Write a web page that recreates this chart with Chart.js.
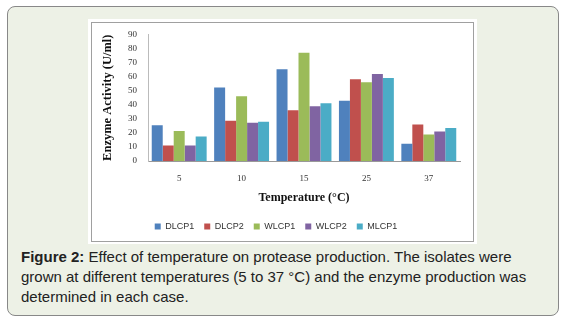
<!DOCTYPE html>
<html>
<head>
<meta charset="utf-8">
<script src="https://cdn.jsdelivr.net/npm/chart.js@4.4.1/dist/chart.umd.min.js"></script>
<style>
    html, body { margin: 0; padding: 0; background: #ffffff; }
    body { width: 567px; height: 323px; position: relative; overflow: hidden; }
    #panel {
        position: absolute; left: 7px; top: 6px; width: 550px; height: 308px;
        background: #edf1e6; border: 1px solid #888; border-radius: 8px;
    }
    #figure {
        position: absolute; left: 88px; top: 19px; width: 389px; height: 225px;
        background: #ffffff;
    }
    #chart-box {
        position: absolute; left: 91px; top: 22px; width: 381px; height: 218px;
        border: 1px solid #a0a0a0; background: #ffffff; overflow: hidden;
    }
    #tempChart { position: absolute; left: 0; top: -5px; }
    #caption {
        position: absolute; left: 21px; top: 247px;
        font-family: "Liberation Sans", Arial, sans-serif; font-size: 15px; line-height: 20px;
        color: #222; white-space: nowrap;
    }
</style>
</head>
<body>
<div id="panel"></div>
<div id="figure"></div>
<div id="chart-box"><canvas id="tempChart" width="381" height="223"></canvas></div>
<div id="caption"><b>Figure 2:</b> Effect of temperature on protease production. The isolates were<br>grown at different temperatures (5 to 37 °C) and the enzyme production was<br>determined in each case.</div>

<script>
        // Data
        const temperatures = ['5', '10', '15', '25', '37'];
        const dlcp1 = [25.5, 52.2, 65.2, 42.8, 12.3];
        const dlcp2 = [11.1, 28.6, 36.1, 58.1, 26.0];
        const wlcp1 = [21.3, 46.0, 77.0, 56.0, 18.9];
        const wlcp2 = [11.1, 27.2, 39.0, 61.9, 21.0];
        const mlcp1 = [17.5, 27.9, 41.1, 59.0, 23.4];
        const yMin = 0;
        const yMax = 90;
        const yStep = 10;

        const serif = '"Liberation Serif", "Times New Roman", serif';

        const tempChart = new Chart(
            document.getElementById('tempChart'),
            {
                type: 'bar',
                data: {
                    labels: temperatures,
                    datasets: [
                        { label: 'DLCP1', data: dlcp1, backgroundColor: '#4f81bd' },
                        { label: 'DLCP2', data: dlcp2, backgroundColor: '#c0504d' },
                        { label: 'WLCP1', data: wlcp1, backgroundColor: '#9bbb59' },
                        { label: 'WLCP2', data: wlcp2, backgroundColor: '#8064a2' },
                        { label: 'MLCP1', data: mlcp1, backgroundColor: '#4bacc6' }
                    ]
                },
                options: {
                    responsive: false,
                    animation: false,
                    categoryPercentage: 0.88,
                    barPercentage: 1.0,
                    layout: {
                        padding: { top: 1, right: 13, left: 0, bottom: 0 }
                    },
                    plugins: {
                        legend: {
                            position: 'bottom',
                            labels: {
                                boxWidth: 6,
                                boxHeight: 6,
                                padding: 10,
                                color: '#333',
                                font: { family: '"Liberation Sans", Arial, sans-serif', size: 9 }
                            }
                        },
                        tooltip: { enabled: false }
                    },
                    scales: {
                        x: {
                            grid: { display: false, drawTicks: false },
                            border: { color: '#999' },
                            ticks: {
                                padding: 12,
                                color: '#333',
                                font: { family: serif, size: 9 }
                            },
                            title: {
                                display: true,
                                text: 'Temperature (°C)',
                                color: '#111',
                                font: { family: serif, size: 12, weight: 'bold' },
                                padding: { top: 0, bottom: 7 }
                            },
                            afterFit: (scale) => { scale.height = 51; }
                        },
                        y: {
                            min: yMin,
                            max: yMax,
                            grid: { display: false, drawTicks: false },
                            border: { color: '#bbb' },
                            ticks: {
                                stepSize: yStep,
                                autoSkip: false,
                                padding: 11,
                                color: '#333',
                                font: { family: serif, size: 9 }
                            },
                            title: {
                                display: true,
                                text: 'Enzyme Activity (U/ml)',
                                color: '#111',
                                font: { family: serif, size: 12.5, weight: 'bold' },
                                padding: { top: 8, bottom: 0 }
                            },
                            afterFit: (scale) => { scale.width = 56; }
                        }
                    }
                }
            }
        );
</script>
</body>
</html>
